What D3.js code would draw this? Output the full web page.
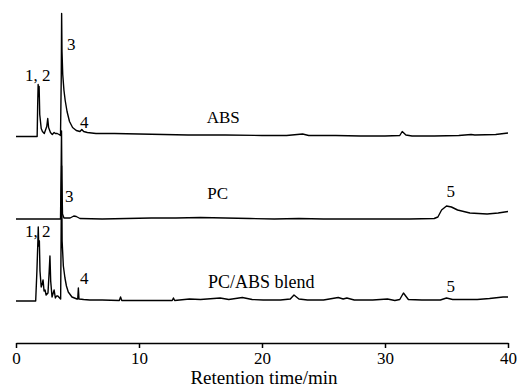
<!DOCTYPE html>
<html><head><meta charset="utf-8">
<script src="https://cdn.jsdelivr.net/npm/d3@7"></script>
<style>body{margin:0;background:#fff}svg{display:block}text{font-family:"Liberation Serif","Times New Roman",serif;fill:#000}</style>
</head><body><div id="chart"></div>
<script>
// ---- data ----
const xTicks = [0, 10, 20, 30, 40];
const xTitle = "Retention time/min";
const seriesNames = ["ABS", "PC", "PC/ABS blend"];
// [retention time (min), relative signal]
const absData = [[0,0],[1.72,0],[1.76,30],[1.80,52],[1.84,40],[1.88,50],[1.93,22],[2.05,8],[2.15,5],[2.3,3],[2.5,10],[2.58,18],[2.65,9],[2.8,4],[2.95,2],[3.1,4],[3.2,3],[3.35,3],[3.5,2],[3.62,1],[3.68,60],[3.71,123],[3.74,85],[3.8,62],[3.9,46],[4.0,36],[4.15,25],[4.35,15],[4.6,9],[4.9,6],[5.2,5],[5.35,7],[5.5,5],[5.8,4],[6.5,3],[8,3],[10,2.5],[12,2],[14,1.5],[17,1.5],[20,1],[22,1],[23.3,2.5],[23.8,1],[26,1],[28,0.5],[30,0.5],[31.2,1],[31.4,5],[31.7,1.5],[32.2,0.5],[34,0.5],[36,1],[37,2],[37.3,1.5],[39,2],[40,3.5]];
const pcData = [[0,0],[3.62,0],[3.67,50],[3.7,88],[3.73,40],[3.78,5],[3.9,1],[4.4,1],[4.7,3],[4.9,2.5],[5.2,0.5],[7,0],[9,0.5],[11,1],[13,1],[15,1.5],[17,1],[19,0.5],[21,0],[23,0.5],[25,0],[27,0],[30,0],[32,0],[34.0,0.5],[34.3,2],[34.6,9],[35.0,13],[35.4,12],[35.9,9],[36.9,6],[38.3,5],[39.2,6],[40,7.5]];
const blendData = [[0,0],[1.6,0],[1.7,30],[1.78,60],[1.81,74],[1.85,55],[1.9,60],[1.95,30],[2.05,14],[2.15,18],[2.2,21],[2.28,10],[2.36,11],[2.45,6],[2.6,8],[2.7,30],[2.76,45],[2.82,20],[2.93,4],[3.1,11],[3.2,3],[3.3,5],[3.4,5],[3.55,3],[3.63,2],[3.67,70],[3.71,135],[3.75,60],[3.85,35],[3.98,23],[4.1,15],[4.25,9],[4.55,4],[4.96,2],[5.02,2],[5.07,13],[5.12,2],[5.5,1.5],[6,1],[7,1],[8.4,0.5],[8.5,4],[8.6,0.5],[10,0.5],[12.7,0.5],[12.8,3],[12.9,0.5],[14.1,2],[15,1.5],[16.6,3],[17.3,1.5],[18.4,3.5],[19.2,1.5],[20.1,1],[21.5,1],[22.3,2],[22.6,6],[23,2],[23.7,1],[25,1],[26.2,3.5],[26.6,2],[26.9,3],[27.5,1],[29,1],[30.2,2],[30.8,0.5],[31.2,1.5],[31.5,8],[31.9,1.5],[33,1],[34.5,1],[35.0,3],[35.5,1.5],[37.5,1.5],[38.5,2.5],[39.6,4],[40,4]];
const peakLabels = [
  {series:0, text:"1, 2", t:0.73, dy:56},
  {series:0, text:"3", t:4.15, dy:87},
  {series:0, text:"4", t:5.2, dy:9},
  {series:1, text:"3", t:3.98, dy:17},
  {series:1, text:"5", t:35.0, dy:22},
  {series:2, text:"1, 2", t:0.73, dy:64},
  {series:2, text:"4", t:5.2, dy:17},
  {series:2, text:"5", t:35.0, dy:9}
];
const seriesLabelT = [15.5, 15.55, 15.6];

// ---- layout ----
const W = 519, H = 389;
const padL = 16, padR = 508, axisY = 343, padT = 10;
const offsets = [206.5, 124, 42];   // baseline offset of each trace (signal units)
const labelRise = [13.5, 20, 13];

const svg = d3.select("#chart").append("svg").attr("width", W).attr("height", H);
const x = d3.scaleLinear().domain([0, 40]).range([padL, padR]);
const y = d3.scaleLinear().domain([0, axisY - padT]).range([axisY, padT]);

const all = [absData, pcData, blendData];
all.forEach((d, i) => {
  const line = d3.line().x(p => x(p[0])).y(p => y(p[1] + offsets[i])).curve(d3.curveLinear);
  svg.append("path").attr("d", line(d)).attr("fill", "none").attr("stroke", "#000")
    .attr("stroke-width", 1.4).attr("stroke-linejoin", "round");
});

// axis
const ax = svg.append("g").attr("transform", `translate(0,${axisY})`)
  .call(d3.axisBottom(x).tickValues(xTicks).tickSize(5).tickSizeOuter(0).tickPadding(4));
ax.select(".domain").attr("stroke", "#000").attr("stroke-width", 1.5);
ax.selectAll(".tick line").attr("stroke", "#000").attr("stroke-width", 1.5);
ax.selectAll(".tick text").style("font-family", '"Liberation Serif",serif').style("font-size", "17px").attr("fill", "#000");

svg.append("text").attr("x", (padL + padR) / 2 + 2).attr("y", 384).attr("text-anchor", "middle")
  .style("font-size", "19px").text(xTitle);

// series labels
seriesNames.forEach((n, i) => {
  svg.append("text").attr("x", x(seriesLabelT[i])).attr("y", y(offsets[i]) - labelRise[i])
    .style("font-size", i === 2 ? "18px" : "17px").text(n);
});
// peak labels
peakLabels.forEach(l => {
  svg.append("text").attr("x", x(l.t)).attr("y", y(offsets[l.series]) - l.dy)
    .style("font-size", "17px").text(l.text);
});
</script></body></html>
